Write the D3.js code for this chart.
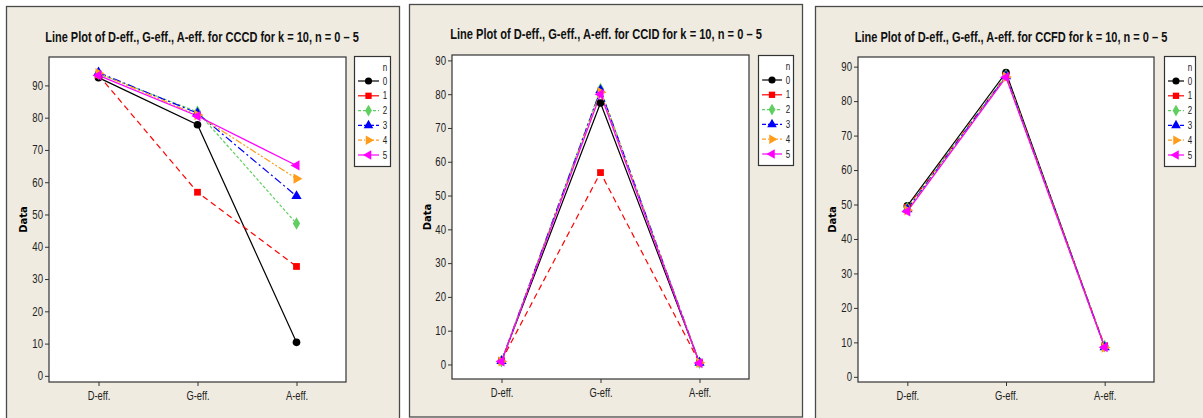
<!DOCTYPE html>
<html>
<head>
<meta charset="utf-8">
<script src="https://cdn.jsdelivr.net/npm/d3@7"></script>
<style>
  body { margin: 0; background: #fff; }
  svg { display: block; }
</style>
</head>
<body>
<script>
// data
var categories = ['D-eff.', 'G-eff.', 'A-eff.'];
var seriesNames = ['0', '1', '2', '3', '4', '5'];
var yTicks = [0, 10, 20, 30, 40, 50, 60, 70, 80, 90];

var cccdValues = [
	[92.4, 77.8, 10.4],
	[93.2, 56.9, 33.9],
	[93.6, 81.8, 47.2],
	[94.0, 81.4, 55.7],
	[93.8, 80.8, 61.1],
	[93.1, 80.5, 65.2]
];
var ccidValues = [
	[1.0, 77.4, 0.5],
	[1.1, 56.8, 0.5],
	[1.0, 81.5, 0.5],
	[1.0, 81.2, 0.5],
	[0.9, 80.6, 0.5],
	[0.9, 80.0, 0.4]
];
var ccfdValues = [
	[49.6, 88.3, 8.7],
	[49.2, 87.4, 9.0],
	[49.0, 87.5, 8.9],
	[48.6, 87.2, 8.6],
	[48.3, 87.0, 8.5],
	[48.0, 86.9, 8.6]
];

// series styles
var colors = ['#000000', '#ff0000', '#5fcf5f', '#0000ff', '#ff9c1a', '#ff00ff'];
var dashes = [null, '6,4', '3,2', '8,3,2,3', '7,2,2,2,2,2', null];
var legendDashes = [null, null, '3,2', '4,2', '4,2,1,2', null];
var symbols = [d3.symbolCircle, d3.symbolSquare, d3.symbolDiamond, d3.symbolTriangle, d3.symbolTriangle, d3.symbolTriangle];
var rotations = [0, 0, 0, 0, 90, -90];

var panels = [
	{name: 'CCCD', values: cccdValues, frame: [6.5, 6.5, 393, 420], plot: [49, 57, 297, 325], yDom: [-1.9, 98.8],
		legend: [354, 56, 36, 110], titleX: 202, titleY: 42, titleW: 314, labelX: 23},
	{name: 'CCID', values: ccidValues, frame: [409.5, 4.5, 393, 412.5], plot: [452, 55, 297, 324], yDom: [-4.3, 91.6],
		legend: [758, 55, 35, 110], titleX: 606, titleY: 39, titleW: 312, labelX: 427},
	{name: 'CCFD', values: ccfdValues, frame: [815.5, 6.5, 400, 420], plot: [858, 57, 296, 325], yDom: [-1.5, 92.8],
		legend: [1164, 56, 31, 110], titleX: 1011, titleY: 42, titleW: 313, labelX: 832}
];

var svg = d3.select('body').append('svg')
	.attr('width', 1203)
	.attr('height', 418);

var narrow = function(sel, k){
	sel.each(function(){
		var w = this.getComputedTextLength();
		d3.select(this).attr('textLength', w*k).attr('lengthAdjust', 'spacingAndGlyphs');
	});
};

var markPath = function(i, size){
	return d3.symbol().type(symbols[i]).size(size)();
};

panels.forEach(function(p){
	var g = svg.append('g');

	g.append('rect')
		.attr('x', p.frame[0]).attr('y', p.frame[1])
		.attr('width', p.frame[2]).attr('height', p.frame[3])
		.style('fill', '#efebe1')
		.style('stroke', '#4a4a4a')
		.style('stroke-width', '1.3px');

	// title: shrink the font to the wanted width, then stretch it back up
	var title = g.append('text')
		.attr('x', 0).attr('y', 0)
		.attr('text-anchor', 'middle')
		.style('font-family', 'Liberation Sans, Arial, sans-serif')
		.style('font-weight', 'bold')
		.style('font-size', '14px')
		.style('fill', '#111')
		.text('Line Plot of D-eff., G-eff., A-eff. for ' + p.name + ' for k = 10, n = 0 \u2013 5');
	var k = p.titleW / title.node().getComputedTextLength();
	title.style('font-size', (14*k) + 'px')
		.attr('transform', 'translate(' + p.titleX + ',' + p.titleY + ') scale(1,' + (1/k) + ')');

	var px = p.plot[0], py = p.plot[1], pw = p.plot[2], ph = p.plot[3];

	g.append('rect')
		.attr('x', px).attr('y', py)
		.attr('width', pw).attr('height', ph)
		.style('fill', '#fff')
		.style('stroke', '#333')
		.style('stroke-width', '1.2px');

	var x = d3.scalePoint().domain(categories).range([px, px + pw]).padding(0.5);
	var y = d3.scaleLinear().domain(p.yDom).range([py + ph, py]);

	var yAxis = g.append('g')
		.attr('transform', 'translate(' + px + ',0)')
		.call(d3.axisLeft(y).tickValues(yTicks).tickSize(4).tickPadding(2));
	var xAxis = g.append('g')
		.attr('transform', 'translate(0,' + (py + ph) + ')')
		.call(d3.axisBottom(x).tickSize(4).tickPadding(5));

	[yAxis, xAxis].forEach(function(a){
		a.select('.domain').remove();
		a.selectAll('line').style('stroke', '#333');
		a.selectAll('text')
			.style('font-family', 'Liberation Sans, Arial, sans-serif')
			.style('font-size', '12px')
			.style('fill', '#222');
	});
	narrow(yAxis.selectAll('text'), 0.8);
	narrow(xAxis.selectAll('text'), 0.78);

	g.append('text')
		.attr('transform', 'translate(' + p.labelX + ',' + (py + ph/2) + ') rotate(-90)')
		.attr('text-anchor', 'middle')
		.attr('dy', '0.35em')
		.style('font-family', 'DejaVu Sans, Verdana, sans-serif')
		.style('font-weight', 'bold')
		.style('font-size', '10px')
		.text('Data');

	var line = d3.line()
		.x(function(d, j){ return x(categories[j]); })
		.y(function(d){ return y(d); });

	p.values.forEach(function(vals, i){
		g.append('path')
			.attr('d', line(vals))
			.style('fill', 'none')
			.style('stroke', colors[i])
			.style('stroke-width', '1.2px')
			.style('stroke-dasharray', dashes[i]);
	});
	p.values.forEach(function(vals, i){
		vals.forEach(function(v, j){
			g.append('path')
				.attr('d', markPath(i, 46))
				.attr('transform', 'translate(' + x(categories[j]) + ',' + y(v) + ') rotate(' + rotations[i] + ')')
				.style('fill', colors[i]);
		});
	});

	// legend
	var lx = p.legend[0], ly = p.legend[1], lw = p.legend[2];
	g.append('rect')
		.attr('x', lx + 0.5).attr('y', ly + 0.5)
		.attr('width', lw).attr('height', p.legend[3])
		.style('fill', '#fff')
		.style('stroke', '#333')
		.style('stroke-width', '1.2px');

	var legendText = function(tx, ty, s){
		return g.append('text')
			.attr('x', tx).attr('y', ty)
			.attr('dy', '0.35em')
			.attr('text-anchor', 'middle')
			.style('font-family', 'Liberation Sans, Arial, sans-serif')
			.style('font-size', '10px')
			.style('fill', '#222')
			.text(s);
	};
	var labelX = lx + lw - 5;
	var lineEnd = labelX - 6;
	narrow(legendText(labelX, ly + 11, 'n'), 0.8);

	seriesNames.forEach(function(s, i){
		var ey = ly + 25 + i*14.8;
		g.append('line')
			.attr('x1', lx + 4).attr('x2', lineEnd)
			.attr('y1', ey).attr('y2', ey)
			.style('stroke', colors[i])
			.style('stroke-width', '1.2px')
			.style('stroke-dasharray', legendDashes[i]);
		g.append('path')
			.attr('d', markPath(i, 40))
			.attr('transform', 'translate(' + ((lx + 4 + lineEnd)/2) + ',' + ey + ') rotate(' + rotations[i] + ')')
			.style('fill', colors[i]);
		narrow(legendText(labelX, ey, s), 0.8);
	});
});
</script>
</body>
</html>
